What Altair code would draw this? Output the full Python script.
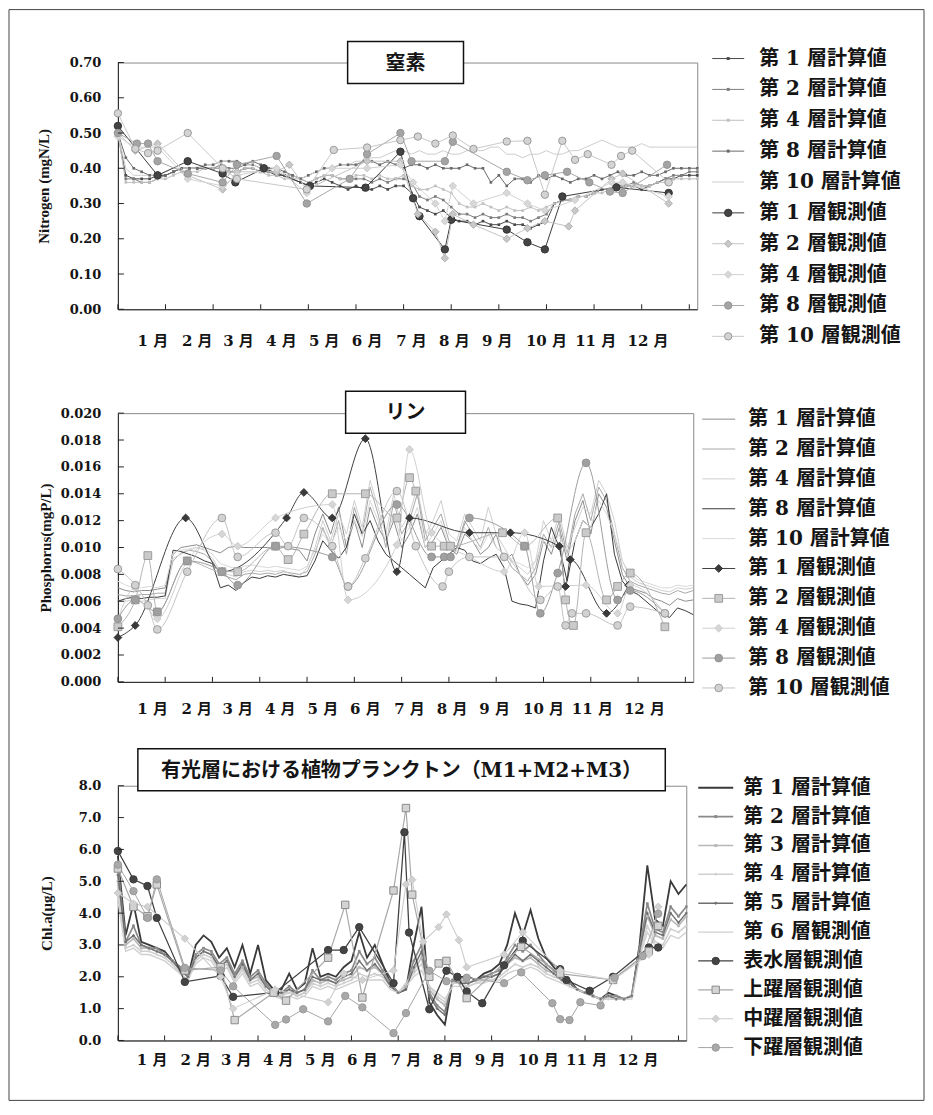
import altair as alt
import pandas as pd

# ---------------- common ----------------
DAYS = list(range(0, 366, 5))   # sampling days of the computed series (74 values)
X_TICKS = [0, 30, 60, 90, 120, 150, 180, 210, 240, 270, 300, 330, 360]
MONTHS = ["1 月", "2 月", "3 月", "4 月", "5 月", "6 月", "7 月", "8 月", "9 月", "10 月", "11 月", "12 月"]
MONTH_POS = [22, 50, 76, 103, 130, 157, 185, 212, 239, 270, 301, 334]

# ---------------- panel 1 : nitrogen ----------------
N_CALC_NAMES = ["第 1 層計算値", "第 2 層計算値", "第 4 層計算値", "第 8 層計算値", "第 10 層計算値"]
N_OBS_NAMES = ["第 1 層観測値", "第 2 層観測値", "第 4 層観測値", "第 8 層観測値", "第 10 層観測値"]
N_YTICKS = [0.0, 0.1, 0.2, 0.3, 0.4, 0.5, 0.6, 0.7]

N_C1 = [0.50, 0.38, 0.37, 0.37, 0.37, 0.38, 0.38,
        0.39, 0.40, 0.40, 0.40, 0.40, 0.40,
        0.40, 0.39, 0.39, 0.40, 0.40, 0.39,
        0.39, 0.38, 0.38, 0.37, 0.36, 0.35,
        0.36, 0.37, 0.36, 0.35, 0.34, 0.35,
        0.34, 0.34, 0.35, 0.34, 0.35, 0.35,
        0.33, 0.29, 0.28, 0.27, 0.28, 0.26,
        0.25, 0.25, 0.24, 0.25, 0.24, 0.24,
        0.25, 0.24, 0.24, 0.23, 0.24, 0.25,
        0.30, 0.31, 0.31, 0.32, 0.32, 0.33,
        0.34, 0.34, 0.35, 0.35, 0.35, 0.34,
        0.35, 0.36, 0.37, 0.37, 0.38, 0.38, 0.38]
N_C2 = [0.50, 0.37, 0.37, 0.36, 0.36, 0.37, 0.38,
        0.39, 0.40, 0.40, 0.40, 0.40, 0.40,
        0.41, 0.40, 0.40, 0.41, 0.41, 0.40,
        0.39, 0.39, 0.38, 0.38, 0.37, 0.36,
        0.37, 0.38, 0.38, 0.37, 0.37, 0.37,
        0.37, 0.36, 0.37, 0.36, 0.37, 0.37,
        0.36, 0.32, 0.31, 0.32, 0.31, 0.29,
        0.27, 0.27, 0.26, 0.27, 0.26, 0.26,
        0.27, 0.26, 0.26, 0.25, 0.26, 0.27,
        0.30, 0.31, 0.31, 0.32, 0.32, 0.33,
        0.34, 0.34, 0.35, 0.35, 0.36, 0.35,
        0.35, 0.36, 0.37, 0.38, 0.38, 0.39, 0.39]
N_C4 = [0.50, 0.36, 0.36, 0.36, 0.36, 0.37, 0.37,
        0.38, 0.39, 0.39, 0.39, 0.40, 0.40,
        0.40, 0.39, 0.39, 0.40, 0.40, 0.39,
        0.38, 0.38, 0.37, 0.37, 0.37, 0.36,
        0.37, 0.38, 0.38, 0.37, 0.37, 0.38,
        0.38, 0.37, 0.38, 0.37, 0.37, 0.38,
        0.35, 0.34, 0.34, 0.35, 0.34, 0.33,
        0.30, 0.29, 0.29, 0.30, 0.29, 0.28,
        0.29, 0.28, 0.28, 0.29, 0.28, 0.29,
        0.30, 0.31, 0.31, 0.32, 0.32, 0.33,
        0.33, 0.34, 0.34, 0.35, 0.35, 0.35,
        0.35, 0.36, 0.36, 0.37, 0.37, 0.37, 0.37]
N_C8 = [0.50, 0.43, 0.40, 0.39, 0.38, 0.38, 0.38,
        0.39, 0.40, 0.40, 0.40, 0.41, 0.41,
        0.42, 0.42, 0.42, 0.41, 0.42, 0.41,
        0.40, 0.40, 0.39, 0.38, 0.37, 0.38,
        0.39, 0.40, 0.40, 0.41, 0.41, 0.41,
        0.42, 0.42, 0.41, 0.42, 0.41, 0.40,
        0.41, 0.41, 0.40, 0.41, 0.40, 0.40,
        0.40, 0.41, 0.40, 0.40, 0.36, 0.38,
        0.35, 0.37, 0.37, 0.36, 0.38, 0.37,
        0.38, 0.37, 0.36, 0.37, 0.37, 0.38,
        0.37, 0.38, 0.39, 0.38, 0.38, 0.39,
        0.38, 0.38, 0.39, 0.40, 0.40, 0.40, 0.40]
N_C10 = [0.50, 0.40, 0.38, 0.38, 0.38, 0.38, 0.39,
         0.40, 0.40, 0.40, 0.40, 0.41, 0.41,
         0.42, 0.42, 0.41, 0.41, 0.41, 0.40,
         0.39, 0.39, 0.38, 0.38, 0.37, 0.38,
         0.39, 0.40, 0.40, 0.41, 0.41, 0.42,
         0.42, 0.43, 0.43, 0.44, 0.45, 0.45,
         0.44, 0.45, 0.44, 0.44, 0.45, 0.44,
         0.44, 0.45, 0.45, 0.45, 0.46, 0.46,
         0.44, 0.44, 0.43, 0.44, 0.44, 0.45,
         0.44, 0.44, 0.45, 0.45, 0.46, 0.47,
         0.48, 0.47, 0.46, 0.46, 0.46, 0.47,
         0.46, 0.46, 0.46, 0.46, 0.46, 0.46, 0.46]

N_O1_D = [0, 25, 44, 66, 74, 92, 121, 156, 178, 186, 190, 206, 210, 245, 258, 269, 280, 314, 347]
N_O1_V = [0.52, 0.38, 0.42, 0.385, 0.36, 0.40, 0.35, 0.345, 0.447, 0.315, 0.264, 0.17, 0.254, 0.226, 0.19, 0.17, 0.32, 0.346, 0.33]
N_O2_D = [0, 11, 25, 44, 66, 75, 100, 108, 119, 157, 178, 189, 200, 206, 211, 224, 245, 258, 269, 284, 288, 311, 318, 347]
N_O2_V = [0.50, 0.45, 0.47, 0.38, 0.34, 0.39, 0.39, 0.41, 0.34, 0.42, 0.42, 0.27, 0.22, 0.145, 0.27, 0.24, 0.20, 0.23, 0.25, 0.235, 0.28, 0.37, 0.385, 0.30]
N_O4_D = [0, 11, 25, 44, 66, 75, 100, 119, 135, 157, 178, 186, 200, 206, 211, 224, 245, 258, 269, 288, 311, 318, 347]
N_O4_V = [0.49, 0.46, 0.46, 0.37, 0.35, 0.38, 0.40, 0.33, 0.40, 0.40, 0.41, 0.36, 0.30, 0.25, 0.35, 0.30, 0.33, 0.30, 0.28, 0.31, 0.36, 0.36, 0.32]
N_O8_D = [0, 12, 19, 25, 44, 66, 75, 100, 119, 146, 157, 178, 185, 206, 211, 245, 258, 269, 283, 297, 310, 318, 346]
N_O8_V = [0.50, 0.47, 0.47, 0.42, 0.385, 0.36, 0.41, 0.435, 0.30, 0.37, 0.44, 0.50, 0.42, 0.42, 0.475, 0.39, 0.366, 0.38, 0.39, 0.36, 0.334, 0.33, 0.41]
N_O10_D = [0, 11, 19, 25, 44, 66, 75, 119, 136, 157, 178, 189, 200, 211, 224, 245, 258, 269, 280, 288, 296, 311, 317, 324, 347]
N_O10_V = [0.556, 0.455, 0.443, 0.45, 0.50, 0.40, 0.37, 0.34, 0.452, 0.459, 0.48, 0.49, 0.47, 0.493, 0.455, 0.476, 0.478, 0.325, 0.478, 0.424, 0.44, 0.41, 0.435, 0.45, 0.36]

# ---------------- panel 2 : phosphorus ----------------
P_CALC_NAMES = ["第 1 層計算値", "第 2 層計算値", "第 4 層計算値", "第 8 層計算値", "第 10 層計算値"]
P_OBS_NAMES = ["第 1 層観測値", "第 2 層観測値", "第 4 層観測値", "第 8 層観測値", "第 10 層観測値"]
P_YTICKS = [0.0, 0.002, 0.004, 0.006, 0.008, 0.010, 0.012, 0.014, 0.016, 0.018, 0.020]

P_C1 = [0.0070, 0.0068, 0.0067, 0.0068, 0.0068, 0.0069, 0.0070,
        0.0095, 0.0100, 0.0101, 0.0102, 0.0100, 0.0098,
        0.0096, 0.0100, 0.0101, 0.0100, 0.0100, 0.0100,
        0.0100, 0.0099, 0.0100, 0.0099, 0.0098, 0.0090,
        0.0110, 0.0125, 0.0110, 0.0130, 0.0100, 0.0120,
        0.0100, 0.0130, 0.0115, 0.0105, 0.0120, 0.0100,
        0.0110, 0.0125, 0.0100, 0.0105, 0.0115, 0.0100,
        0.0095, 0.0110, 0.0105, 0.0095, 0.0100, 0.0110,
        0.0090, 0.0095, 0.0080, 0.0072, 0.0080, 0.0105,
        0.0095, 0.0115, 0.0090, 0.0120, 0.0135, 0.0110,
        0.0140, 0.0130, 0.0105, 0.0080, 0.0070, 0.0068,
        0.0066, 0.0062, 0.0060, 0.0057, 0.0062, 0.0060, 0.0061]
P_C2 = [0.0065, 0.0064, 0.0064, 0.0065, 0.0065, 0.0066, 0.0066,
        0.0090, 0.0096, 0.0098, 0.0097, 0.0095, 0.0090,
        0.0080, 0.0078, 0.0076, 0.0080, 0.0081, 0.0080,
        0.0081, 0.0080, 0.0082, 0.0081, 0.0080, 0.0082,
        0.0095, 0.0115, 0.0100, 0.0120, 0.0095, 0.0130,
        0.0110, 0.0145, 0.0125, 0.0100, 0.0135, 0.0110,
        0.0120, 0.0140, 0.0105, 0.0115, 0.0125, 0.0105,
        0.0100, 0.0120, 0.0110, 0.0100, 0.0115, 0.0100,
        0.0095, 0.0085, 0.0080, 0.0075, 0.0085, 0.0110,
        0.0100, 0.0120, 0.0095, 0.0125, 0.0140, 0.0120,
        0.0145, 0.0135, 0.0110, 0.0085, 0.0075, 0.0072,
        0.0070, 0.0068, 0.0066, 0.0065, 0.0068, 0.0066, 0.0068]
P_C4 = [0.0060, 0.0060, 0.0061, 0.0060, 0.0061, 0.0062, 0.0062,
        0.0092, 0.0095, 0.0098, 0.0100, 0.0098, 0.0092,
        0.0082, 0.0080, 0.0078, 0.0082, 0.0083, 0.0082,
        0.0083, 0.0082, 0.0083, 0.0080, 0.0078, 0.0085,
        0.0100, 0.0120, 0.0105, 0.0125, 0.0110, 0.0135,
        0.0115, 0.0150, 0.0130, 0.0110, 0.0140, 0.0115,
        0.0125, 0.0145, 0.0110, 0.0120, 0.0135, 0.0110,
        0.0105, 0.0125, 0.0115, 0.0105, 0.0130, 0.0110,
        0.0100, 0.0090, 0.0085, 0.0080, 0.0090, 0.0120,
        0.0105, 0.0125, 0.0100, 0.0115, 0.0130, 0.0125,
        0.0150, 0.0140, 0.0120, 0.0090, 0.0078, 0.0074,
        0.0072, 0.0070, 0.0068, 0.0067, 0.0070, 0.0069, 0.0070]
P_C8 = [0.0060, 0.0062, 0.0063, 0.0062, 0.0063, 0.0063, 0.0064,
        0.0098, 0.0097, 0.0095, 0.0093, 0.0090, 0.0088,
        0.0070, 0.0072, 0.0068, 0.0074, 0.0078, 0.0077,
        0.0079, 0.0078, 0.0080, 0.0079, 0.0078, 0.0079,
        0.0090, 0.0105, 0.0098, 0.0092, 0.0100, 0.0125,
        0.0110, 0.0120, 0.0105, 0.0095, 0.0090, 0.0085,
        0.0080, 0.0075, 0.0070, 0.0085, 0.0090, 0.0095,
        0.0100, 0.0098, 0.0090, 0.0088, 0.0092, 0.0095,
        0.0085, 0.0060, 0.0058, 0.0057, 0.0055, 0.0090,
        0.0115, 0.0100, 0.0075, 0.0105, 0.0120, 0.0115,
        0.0125, 0.0140, 0.0095, 0.0075, 0.0068, 0.0065,
        0.0060, 0.0055, 0.0050, 0.0048, 0.0055, 0.0053, 0.0050]
P_C10 = [0.0075, 0.0072, 0.0070, 0.0070, 0.0071, 0.0070, 0.0072,
         0.0096, 0.0098, 0.0099, 0.0100, 0.0099, 0.0095,
         0.0088, 0.0086, 0.0084, 0.0086, 0.0087, 0.0086,
         0.0085, 0.0086, 0.0085, 0.0084, 0.0083, 0.0086,
         0.0098, 0.0110, 0.0102, 0.0115, 0.0105, 0.0120,
         0.0108, 0.0135, 0.0120, 0.0105, 0.0125, 0.0105,
         0.0115, 0.0130, 0.0100, 0.0110, 0.0120, 0.0100,
         0.0098, 0.0115, 0.0105, 0.0098, 0.0110, 0.0100,
         0.0095, 0.0090, 0.0088, 0.0085, 0.0090, 0.0105,
         0.0100, 0.0110, 0.0095, 0.0105, 0.0120, 0.0115,
         0.0135, 0.0125, 0.0110, 0.0090, 0.0080, 0.0076,
         0.0074, 0.0072, 0.0070, 0.0070, 0.0072, 0.0071, 0.0072]

P_O1_D = [0, 11, 43, 66, 107, 118, 136, 157, 177, 185, 223, 249, 280, 284, 287, 310, 324]
P_O1_V = [0.0033, 0.0042, 0.0122, 0.0082, 0.0122, 0.0141, 0.0122, 0.0181, 0.0082, 0.0122, 0.0111, 0.0111, 0.0101, 0.0071, 0.0091, 0.0051, 0.0072]
P_O2_D = [0, 11, 19, 25, 44, 66, 76, 100, 108, 118, 136, 157, 177, 185, 189, 199, 207, 211, 244, 258, 279, 284, 289, 297, 310, 317, 325, 347]
P_O2_V = [0.0041, 0.0061, 0.0094, 0.0052, 0.0090, 0.0082, 0.0082, 0.0101, 0.0091, 0.0110, 0.0140, 0.0140, 0.0122, 0.0152, 0.0142, 0.0101, 0.0101, 0.0101, 0.0111, 0.0101, 0.0122, 0.0061, 0.0042, 0.0111, 0.0061, 0.0071, 0.0081, 0.0041]
P_O4_D = [0, 11, 25, 44, 66, 76, 100, 136, 146, 177, 185, 199, 223, 245, 258, 267, 297, 317, 325, 347]
P_O4_V = [0.0047, 0.0070, 0.0047, 0.0090, 0.0110, 0.0101, 0.0122, 0.0132, 0.0061, 0.0102, 0.0173, 0.0111, 0.0093, 0.0082, 0.0111, 0.0071, 0.0072, 0.0051, 0.0072, 0.0051]
P_O8_D = [0, 11, 25, 44, 66, 76, 100, 136, 146, 177, 199, 207, 211, 223, 258, 268, 279, 297, 317, 325, 347]
P_O8_V = [0.0047, 0.0061, 0.0052, 0.0090, 0.0082, 0.0072, 0.0101, 0.0093, 0.0071, 0.0132, 0.0093, 0.0093, 0.0093, 0.0122, 0.0101, 0.0051, 0.0081, 0.0163, 0.0061, 0.0068, 0.0051]
P_O10_D = [0, 11, 19, 25, 44, 66, 76, 100, 108, 118, 136, 146, 157, 177, 189, 206, 210, 223, 245, 268, 279, 284, 288, 297, 317, 325, 347]
P_O10_V = [0.0084, 0.0072, 0.0057, 0.0039, 0.0082, 0.0122, 0.0093, 0.0111, 0.0101, 0.0122, 0.0101, 0.0071, 0.0092, 0.0142, 0.0101, 0.0071, 0.0082, 0.0093, 0.0093, 0.0061, 0.0071, 0.0042, 0.0051, 0.0051, 0.0042, 0.0056, 0.0051]

# ---------------- panel 3 : chlorophyll ----------------
C_CALC_NAMES = ["第 1 層計算値", "第 2 層計算値", "第 3 層計算値", "第 4 層計算値", "第 5 層計算値", "第 6 層観測値"]
C_OBS_NAMES = ["表水層観測値", "上躍層観測値", "中躍層観測値", "下躍層観測値"]
C_YTICKS = [0, 1, 2, 3, 4, 5, 6, 7, 8]

C_C1 = [5.8, 3.3, 4.3, 3.1, 3.0, 2.9, 2.8,
        2.5, 2.3, 2.0, 3.0, 3.3, 3.1,
        2.6, 2.9, 2.3, 3.0, 2.1, 3.0,
        1.9, 1.6, 1.6, 2.1, 1.6, 1.8,
        2.9, 2.0, 2.1, 2.0, 2.3, 2.5,
        3.4, 2.6, 3.0, 2.4, 1.8, 1.5,
        1.6, 3.0, 4.2, 1.2, 0.8, 0.5,
        1.9, 2.0, 2.0, 1.9, 2.1, 2.2,
        2.4, 3.0, 4.0, 3.3, 4.1, 3.2,
        2.6, 2.3, 2.0, 1.9, 1.6, 1.5,
        1.4, 1.3, 1.5, 1.4, 1.3, 1.4,
        3.0, 5.5, 3.8, 3.6, 5.0, 4.6, 4.9]
C_C2 = [5.5, 3.1, 3.6, 3.0, 2.9, 2.9, 2.7,
        2.5, 2.3, 2.0, 2.7, 2.9, 2.8,
        2.4, 2.6, 2.1, 2.5, 2.0, 2.2,
        1.8, 1.5, 1.5, 1.7, 1.5, 1.6,
        2.2, 1.9, 2.0, 1.9, 2.1, 2.2,
        2.8, 2.4, 2.6, 2.2, 1.8, 1.5,
        1.7, 2.5, 3.0, 1.5, 1.1, 0.9,
        1.9, 1.9, 1.8, 1.9, 2.0, 2.1,
        2.2, 2.6, 3.0, 2.8, 3.0, 2.7,
        2.4, 2.2, 2.0, 1.8, 1.6, 1.5,
        1.4, 1.3, 1.4, 1.4, 1.3, 1.4,
        2.9, 4.3, 3.5, 3.4, 4.2, 3.9, 4.2]
C_C3 = [5.0, 3.0, 3.2, 2.9, 2.9, 2.8, 2.7,
        2.5, 2.2, 2.0, 2.6, 2.8, 2.7,
        2.3, 2.5, 2.0, 2.3, 1.9, 2.0,
        1.7, 1.5, 1.4, 1.6, 1.4, 1.5,
        1.9, 1.8, 1.9, 1.8, 1.9, 2.0,
        2.3, 2.2, 2.3, 2.1, 1.7, 1.5,
        1.7, 2.2, 2.6, 1.6, 1.3, 1.1,
        1.8, 1.9, 1.8, 1.9, 1.9, 2.0,
        2.1, 2.4, 2.6, 2.5, 2.6, 2.4,
        2.2, 2.1, 1.9, 1.8, 1.6, 1.5,
        1.4, 1.3, 1.4, 1.3, 1.3, 1.4,
        2.8, 3.9, 3.3, 3.2, 3.8, 3.6, 3.9]
C_C4 = [4.6, 2.9, 3.0, 2.8, 2.8, 2.7, 2.6,
        2.4, 2.1, 1.9, 2.5, 2.7, 2.6,
        2.2, 2.4, 1.9, 2.2, 1.8, 1.9,
        1.6, 1.4, 1.4, 1.5, 1.4, 1.5,
        1.8, 1.7, 1.8, 1.7, 1.8, 1.9,
        2.1, 2.0, 2.1, 2.0, 1.7, 1.5,
        1.8, 2.1, 2.4, 1.7, 1.4, 1.2,
        1.8, 1.8, 1.7, 1.8, 1.9, 1.9,
        2.0, 2.2, 2.4, 2.3, 2.4, 2.3,
        2.1, 2.0, 1.9, 1.7, 1.6, 1.5,
        1.4, 1.3, 1.3, 1.3, 1.3, 1.4,
        2.7, 3.6, 3.1, 3.0, 3.5, 3.4, 3.6]
C_C5 = [5.2, 3.1, 3.3, 3.0, 2.9, 2.8, 2.7,
        2.5, 2.2, 2.0, 2.6, 2.8, 2.7,
        2.3, 2.5, 2.0, 2.4, 1.9, 2.1,
        1.7, 1.5, 1.5, 1.6, 1.5, 1.6,
        2.0, 1.9, 1.9, 1.8, 2.0, 2.1,
        2.5, 2.2, 2.4, 2.1, 1.7, 1.5,
        1.6, 2.3, 2.8, 1.4, 1.0, 0.8,
        1.9, 1.8, 1.8, 1.9, 2.0, 2.0,
        2.1, 2.4, 2.7, 2.5, 2.7, 2.5,
        2.3, 2.1, 1.9, 1.8, 1.6, 1.5,
        1.4, 1.3, 1.4, 1.3, 1.3, 1.4,
        2.8, 4.0, 3.4, 3.3, 4.0, 3.7, 4.0]
C_C6 = [4.4, 2.8, 2.9, 2.7, 2.7, 2.6, 2.5,
        2.3, 2.1, 1.9, 2.4, 2.6, 2.5,
        2.1, 2.3, 1.8, 2.1, 1.7, 1.8,
        1.5, 1.4, 1.3, 1.4, 1.3, 1.4,
        1.7, 1.6, 1.7, 1.6, 1.7, 1.8,
        1.9, 1.9, 1.9, 1.9, 1.6, 1.5,
        1.7, 2.0, 2.2, 1.7, 1.5, 1.3,
        1.7, 1.7, 1.7, 1.8, 1.8, 1.9,
        1.9, 2.1, 2.2, 2.2, 2.3, 2.2,
        2.0, 1.9, 1.8, 1.7, 1.6, 1.5,
        1.4, 1.3, 1.3, 1.3, 1.3, 1.3,
        2.6, 3.4, 3.0, 2.9, 3.3, 3.2, 3.4]

C_OS_D = [0, 10, 19, 25, 43, 66, 74, 101, 135, 145, 155, 177, 184, 187, 200, 211, 218, 224, 234, 248, 260, 284, 288, 303, 318, 341, 347]
C_OS_V = [5.95, 5.06, 4.85, 3.85, 1.84, 2.03, 1.37, 1.51, 2.84, 2.84, 3.56, 1.8, 6.54, 3.39, 0.98, 2.19, 2.0, 1.54, 1.17, 2.36, 3.13, 2.24, 1.9, 1.56, 2.0, 2.92, 2.92]
C_OU_D = [0, 10, 19, 25, 43, 66, 75, 100, 108, 135, 146, 157, 177, 185, 189, 200, 206, 211, 224, 259, 284, 318, 341, 347]
C_OU_V = [5.4, 4.2, 3.9, 4.9, 2.2, 2.3, 0.64, 1.5, 1.25, 2.6, 4.26, 1.35, 4.71, 7.3, 4.58, 2.0, 2.42, 2.5, 1.33, 2.94, 2.1, 1.9, 2.8, 3.6]
C_OM_D = [0, 10, 19, 43, 66, 74, 101, 135, 145, 157, 177, 185, 189, 196, 206, 211, 219, 224, 248, 260, 284, 318, 341, 347]
C_OM_V = [4.63, 4.3, 4.2, 3.2, 2.0, 1.0, 1.6, 1.2, 2.1, 1.9, 2.2, 4.9, 5.05, 3.1, 3.56, 3.96, 3.15, 2.3, 2.7, 3.4, 2.2, 1.9, 2.7, 4.2]
C_OL_D = [0, 10, 19, 25, 43, 66, 74, 101, 108, 119, 135, 146, 157, 177, 185, 200, 211, 224, 248, 259, 279, 284, 290, 297, 310, 319, 337, 347]
C_OL_V = [5.52, 4.69, 3.85, 5.06, 2.28, 2.2, 1.7, 0.49, 0.66, 0.98, 0.6, 1.4, 1.04, 0.23, 0.86, 2.19, 1.86, 1.97, 1.8, 2.14, 1.17, 0.67, 0.64, 1.2, 1.1, 1.97, 2.65, 3.98]

# ---------------- styles ----------------
FONT_NUM = "DejaVu Serif"
FONT_MIX = "'DejaVu Serif', 'Noto Sans CJK JP'"
FONT_TTL = "'Liberation Serif'"
INK = "#151515"

# calc: (line colour, width, marker shape or None)
# obs : (line colour, width, shape, fill, stroke)
STYLE_N = {
    "calc": [("#4a4a4a", 1.0, "square"), ("#7d7d7d", 1.0, "square"), ("#c0c0c0", 1.0, "square"),
             ("#6a6a6a", 1.0, "square"), ("#cdcdcd", 1.5, None)],
    "obs": [("#3c3c3c", 1.8, "circle", "#444444", "#333333"),
            ("#c4c4c4", 1.0, "diamond", "#c8c8c8", "#b0b0b0"),
            ("#d2d2d2", 1.0, "diamond", "#d8d8d8", "#cccccc"),
            ("#a8a8a8", 1.0, "circle", "#a4a4a4", "#959595"),
            ("#c8c8c8", 1.2, "circle", "#d4d4d4", "#9a9a9a")],
}
STYLE_P = {
    "calc": [("#8c8c8c", 1.0, None), ("#a8a8a8", 1.0, None), ("#cfcfcf", 1.0, None),
             ("#3a3a3a", 1.0, None), ("#d9d9d9", 1.0, None)],
    "obs": [("#404040", 1.2, "diamond", "#3a3a3a", "#333333"),
            ("#b4b4b4", 1.0, "square", "#cacaca", "#9c9c9c"),
            ("#d0d0d0", 1.0, "diamond", "#d6d6d6", "#cccccc"),
            ("#9c9c9c", 1.0, "circle", "#a0a0a0", "#939393"),
            ("#c4c4c4", 1.0, "circle", "#d2d2d2", "#9e9e9e")],
}
STYLE_C = {
    "calc": [("#3a3a3a", 1.8, None), ("#8a8a8a", 1.0, "square"), ("#b8b8b8", 1.0, "square"),
             ("#d0d0d0", 1.0, "cross"), ("#6e6e6e", 1.0, "cross"), ("#cfcfcf", 1.0, None)],
    "obs": [("#404040", 1.0, "circle", "#444444", "#3a3a3a"),
            ("#a8a8a8", 1.0, "square", "#d4d4d4", "#8c8c8c"),
            ("#cccccc", 1.0, "diamond", "#d2d2d2", "#c8c8c8"),
            ("#a6a6a6", 1.0, "circle", "#a8a8a8", "#9a9a9a")],
}


def build_panel(g, calc_names, calc_vals, obs_names, obs_data, st):
    W, H = g["W"], g["H"]
    keys_c = [f"c{i}" for i in range(len(calc_names))]
    keys_o = [f"o{i}" for i in range(len(obs_names))]
    keys = keys_c + keys_o
    labels = calc_names + obs_names
    cs = alt.Scale(domain=keys, range=[s[0] for s in st["calc"]] + [s[0] for s in st["obs"]])
    ws = alt.Scale(domain=keys, range=[s[1] for s in st["calc"]] + [s[1] for s in st["obs"]])
    ss = alt.Scale(domain=keys, range=[(s[2] or "square") for s in st["calc"]] + [s[2] for s in st["obs"]])
    fs = alt.Scale(domain=keys, range=[s[0] for s in st["calc"]] + [s[3] for s in st["obs"]])
    ks = alt.Scale(domain=keys, range=[s[0] for s in st["calc"]] + [s[4] for s in st["obs"]])
    marker_keys = [k for k, s in zip(keys_c, st["calc"]) if s[2]]

    rows = []
    for k, vals in zip(keys_c, calc_vals):
        assert len(vals) == len(DAYS), (k, len(vals))
        rows += [{"day": d, "value": v, "key": k} for d, v in zip(DAYS, vals)]
    comp = pd.DataFrame(rows)
    rows = []
    for k, (ds, vs) in zip(keys_o, obs_data):
        assert len(ds) == len(vs), (k, len(ds), len(vs))
        rows += [{"day": d, "value": v, "key": k} for d, v in zip(ds, vs)]
    obs = pd.DataFrame(rows)

    xs = alt.Scale(domain=[0, 365], nice=False, zero=False)
    ys = alt.Scale(domain=g["ydom"], nice=False, zero=False)
    xaxis = alt.Axis(labels=False, ticks=False, title=None, grid=False, domainColor="#222222", domainWidth=1)
    yaxis = alt.Axis(values=g["yticks"], format=g["fmt"], ticks=False, grid=False,
                     domainColor="#222222", domainWidth=1,
                     labelFont=FONT_NUM, labelFontSize=13, labelFontWeight="bold", labelColor=INK,
                     labelPadding=17,
                     title=g["ytitle"], titleFont=FONT_TTL, titleFontSize=15, titleFontWeight="bold",
                     titleColor=INK, titleAngle=270, titleX=g["titleX"], titleY=H / 2,
                     titleAlign="center", titleBaseline="middle")
    X = alt.X("day:Q", scale=xs, axis=xaxis)
    Y = alt.Y("value:Q", scale=ys, axis=yaxis)
    col = alt.Color("key:N", scale=cs, legend=None)
    sw = alt.StrokeWidth("key:N", scale=ws, legend=None)
    shp = alt.Shape("key:N", scale=ss, legend=None)
    fil = alt.Fill("key:N", scale=fs, legend=None)
    stk = alt.Stroke("key:N", scale=ks, legend=None)

    layers = []
    layers.append(alt.Chart(comp).mark_line().encode(x=X, y=Y, color=col, strokeWidth=sw))
    if marker_keys:
        layers.append(alt.Chart(comp[comp.key.isin(marker_keys)]).mark_point(filled=True, size=7, opacity=1)
                      .encode(x=X, y=Y, color=col, shape=shp))
    layers.append(alt.Chart(obs).mark_line(interpolate=g["interp"]).encode(x=X, y=Y, color=col, strokeWidth=sw))
    layers.append(alt.Chart(obs).mark_point(filled=True, size=g["msize"], opacity=1, strokeWidth=1)
                  .encode(x=X, y=Y, shape=shp, fill=fil, stroke=stk))
    layers.append(alt.Chart(pd.DataFrame({"day": X_TICKS})).mark_rule(color="#222222")
                  .encode(x=X, y=alt.value(H), y2=alt.value(H - 5)))
    layers.append(alt.Chart(pd.DataFrame({"value": g["yticks"]})).mark_rule(color="#222222")
                  .encode(y=Y, x=alt.value(0), x2=alt.value(6)))
    layers.append(alt.Chart(pd.DataFrame({"day": MONTH_POS, "label": MONTHS}))
                  .mark_text(font=FONT_MIX, fontSize=15, fontWeight="bold", color=INK, baseline="middle")
                  .encode(x=X, y=alt.value(g["month_y"]), text="label:N"))
    bx0, bx1, by0, by1 = g["box"]
    tdf = pd.DataFrame({"t": [g["title"]]})
    layers.append(alt.Chart(tdf).mark_rect(fill="white", stroke="#111111", strokeWidth=1.5)
                  .encode(x=alt.value(bx0), x2=alt.value(bx1), y=alt.value(by0), y2=alt.value(by1)))
    layers.append(alt.Chart(tdf).mark_text(font=FONT_MIX, fontSize=20, fontWeight="bold", color=INK,
                                           align="center", baseline="middle")
                  .encode(x=alt.value((bx0 + bx1) / 2), y=alt.value((by0 + by1) / 2 + 1), text="t:N"))
    if g.get("frame"):
        fx0, fx1, fy0, fy1 = g["frame"]
        layers.append(alt.Chart(pd.DataFrame({"a": [0]})).mark_rect(fillOpacity=0, stroke="#444444", strokeWidth=1)
                      .encode(x=alt.value(fx0), x2=alt.value(fx1), y=alt.value(fy0), y2=alt.value(fy1)))
    main = alt.layer(*layers)

    # legend drawn from the series list
    L0, S, lx0, lx1, lt = g["legend"]
    d0 = -L0 / S
    d1 = d0 + H / S
    leg = pd.DataFrame({"key": keys, "i": list(range(len(keys))), "label": labels})
    LY = alt.Y("i:Q", scale=alt.Scale(domain=[d0, d1], reverse=True, nice=False, zero=False), axis=None)
    leg_layers = [
        alt.Chart(leg).mark_rule().encode(x=alt.value(lx0), x2=alt.value(lx1), y=LY, color=col, strokeWidth=sw),
        alt.Chart(leg[leg.key.isin(keys_o)]).mark_point(filled=True, size=g["msize"], opacity=1, strokeWidth=1)
        .encode(x=alt.value((lx0 + lx1) / 2), y=LY, shape=shp, fill=fil, stroke=stk),
    ]
    if marker_keys:
        leg_layers.append(alt.Chart(leg[leg.key.isin(marker_keys)]).mark_point(filled=True, size=9, opacity=1)
                          .encode(x=alt.value((lx0 + lx1) / 2), y=LY, color=col, shape=shp))
    leg_layers.append(alt.Chart(leg).mark_text(align="left", baseline="middle", font=FONT_MIX, fontSize=20,
                                               fontWeight="bold", color=INK)
                      .encode(x=alt.value(lt), y=LY, text="label:N"))
    legend = alt.layer(*leg_layers)
    return alt.layer(main, legend).resolve_scale(y="independent").properties(width=W, height=H)


G1 = dict(W=580, H=247, ydom=[0, 0.7], yticks=N_YTICKS, fmt=".2f", ytitle="Nitrogen (mgN/L)", titleX=-74,
          interp="linear", msize=55, month_y=279, box=(230, 346, -21, 21), title="窒素",
          legend=(-4, 30.9, 595, 627, 642), frame=(-109, 807, -53, 1039))
G2 = dict(W=576, H=269, ydom=[0, 0.02], yticks=P_YTICKS, fmt=".3f", ytitle="Phosphorus(mgP/L)", titleX=-72,
          interp="monotone", msize=60, month_y=296, box=(228, 348, -22, 20), title="リン",
          legend=(6, 29.9, 585, 618, 631))
G3 = dict(W=569, H=255, ydom=[0, 8], yticks=C_YTICKS, fmt=".1f", ytitle="Chl.a(μg/L)", titleX=-71,
          interp="linear", msize=55, month_y=275, box=(20, 548, -37, 5),
          title="有光層における植物プランクトン（M1+M2+M3）",
          legend=(2, 28.9, 581, 616, 626))

p1 = build_panel(G1, N_CALC_NAMES, [N_C1, N_C2, N_C4, N_C8, N_C10], N_OBS_NAMES,
                 [(N_O1_D, N_O1_V), (N_O2_D, N_O2_V), (N_O4_D, N_O4_V), (N_O8_D, N_O8_V), (N_O10_D, N_O10_V)],
                 STYLE_N)
p2 = build_panel(G2, P_CALC_NAMES, [P_C1, P_C2, P_C4, P_C8, P_C10], P_OBS_NAMES,
                 [(P_O1_D, P_O1_V), (P_O2_D, P_O2_V), (P_O4_D, P_O4_V), (P_O8_D, P_O8_V), (P_O10_D, P_O10_V)],
                 STYLE_P)
p3 = build_panel(G3, C_CALC_NAMES, [C_C1, C_C2, C_C3, C_C4, C_C5, C_C6], C_OBS_NAMES,
                 [(C_OS_D, C_OS_V), (C_OU_D, C_OU_V), (C_OM_D, C_OM_V), (C_OL_D, C_OL_V)],
                 STYLE_C)

chart = (
    alt.vconcat(p1, p2, p3, spacing=104, bounds="flush")
    .resolve_scale(x="independent", y="independent", color="independent", fill="independent",
                   stroke="independent", shape="independent", strokeWidth="independent")
    .properties(padding=0, background="white")
    .configure_view(stroke="#8a8a8a", strokeWidth=1)
)

chart.save("out.html", embed_options={"renderer": "svg", "actions": False})
